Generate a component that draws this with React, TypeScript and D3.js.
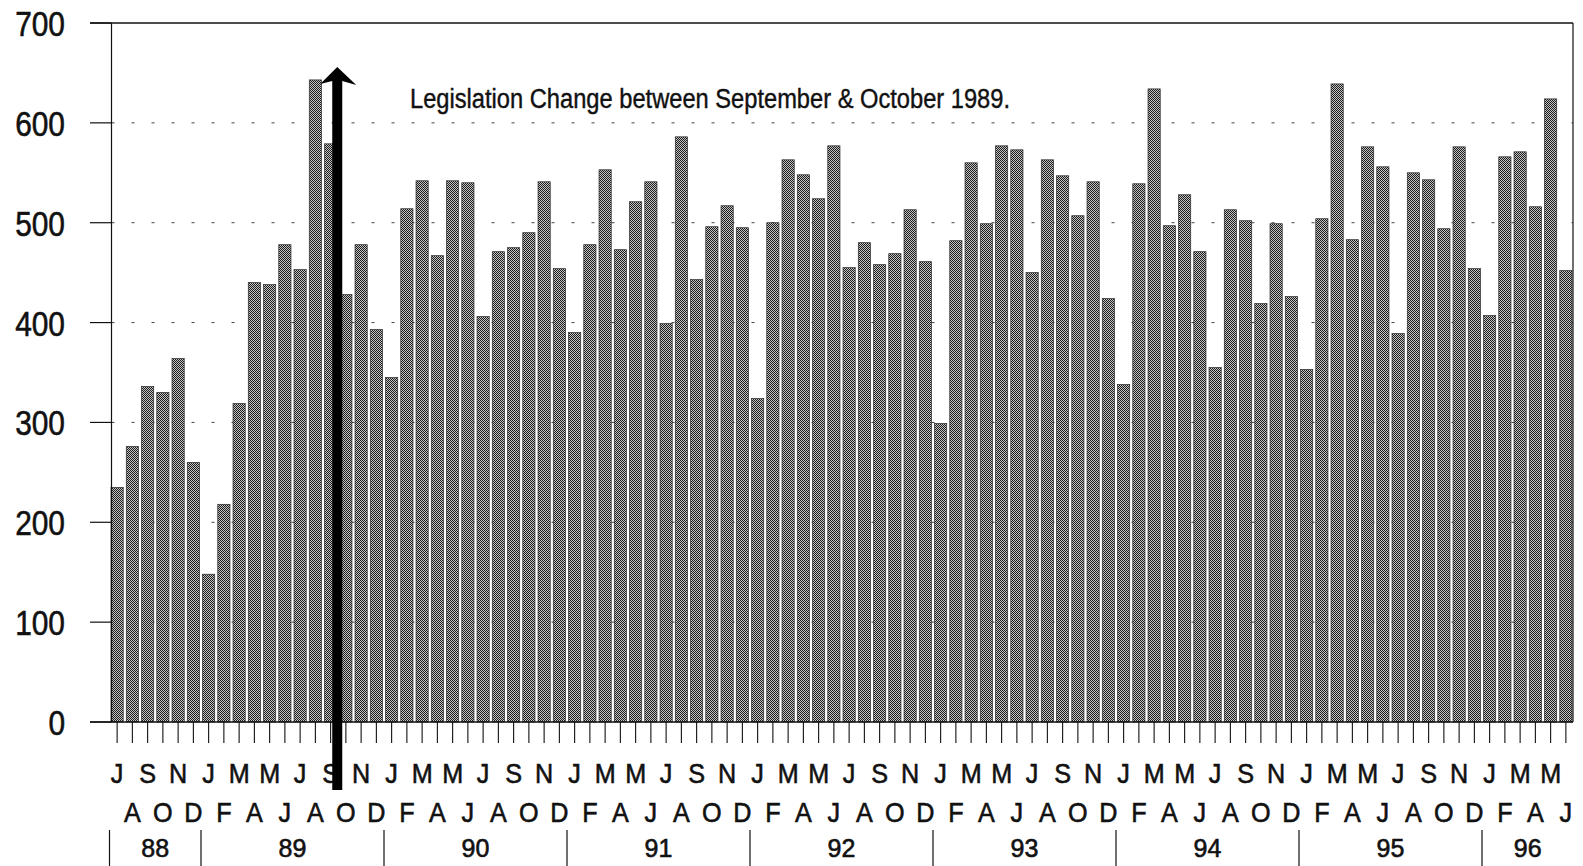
import React from 'react'
import * as d3 from 'd3'

// monthly counts, July 1988 .. June 1996
const values = [
  235, 276, 336, 330, 364, 260,
  148, 218, 319, 440, 438, 478, 453, 643, 579, 428, 478, 393,
  345, 514, 542, 467, 542, 540, 406, 471, 475, 490, 541, 454,
  390, 478, 553, 473, 521, 541, 399, 586, 443, 496, 517, 495,
  324, 500, 563, 548, 524, 577, 455, 480, 458, 469, 513, 461,
  299, 482, 560, 499, 577, 573, 450, 563, 547, 507, 541, 424,
  338, 539, 634, 497, 528, 471, 355, 513, 502, 419, 499, 426,
  353, 504, 639, 483, 576, 556, 389, 550, 543, 494, 576, 454,
  407, 566, 571, 516, 624, 452
]
const monthLetters = ['J', 'F', 'M', 'A', 'M', 'J', 'J', 'A', 'S', 'O', 'N', 'D']
const years = ['88', '89', '90', '91', '92', '93', '94', '95', '96']
const startMonth = 6 // July 1988
const yTicks = [0, 100, 200, 300, 400, 500, 600, 700]
const annotation = 'Legislation Change between September & October 1989.'
const changeIndex = 15 // October 1989

const W = 1583
const H = 866
const FONT = '"Liberation Sans", Arial, sans-serif'

const cats = values.map((_, i) => {
  const m = (startMonth + i) % 12
  const y = Math.floor((startMonth + i) / 12)
  return { key: i, letter: monthLetters[m], year: years[y], month: m }
})

const App = () => {
  const x = d3.scaleBand<number>()
    .domain(cats.map(c => c.key))
    .range([109.5, 1573.5])
    .paddingInner(0.2)
    .paddingOuter(0.1)
  const step = x.step()
  const y = d3.scaleLinear().domain([0, 700]).range([722, 23])
  const left = 111.5
  const right = 1573
  const bottom = y(0)
  const top = y(700)

  // year segments
  const segs = years.map(yr => {
    const idx = cats.filter(c => c.year === yr).map(c => c.key)
    const x0 = x.range()[0] + idx[0] * step
    const x1 = x.range()[0] + (idx[idx.length - 1] + 1) * step
    return { yr, x0, x1 }
  })

  const arrowX = x.range()[0] + changeIndex * step - 1
  const tipY = y(656)
  const ink = { fill: '#111', stroke: '#111', strokeWidth: 0.6 }

  return (
    <svg width={W} height={H} style={{ position: 'absolute', left: 0, top: 0, background: '#fff' }}>
      <defs>
        <pattern id='halftone' patternUnits='userSpaceOnUse' width={2} height={2}>
          <rect width={2} height={2} fill='#c4c4c4' />
          <rect width={1} height={1} fill='#1c1c1c' />
          <rect x={1} y={1} width={1} height={1} fill='#1c1c1c' />
        </pattern>
      </defs>

      {/* dashed gridlines */}
      {yTicks.filter(t => t > 0 && t < 700).map(t => (
        <line key={t} x1={left} x2={right} y1={y(t)} y2={y(t)}
          stroke='#444' strokeWidth={1} strokeDasharray='3,17' />
      ))}

      {/* bars */}
      {values.map((v, i) => (
        <rect key={i} x={x(i)} y={y(v)} width={x.bandwidth()} height={bottom - y(v)}
          fill='url(#halftone)' stroke='#2a2a2a' strokeWidth={0.7} />
      ))}

      {/* frame */}
      <line x1={90} x2={right} y1={top} y2={top} stroke='#111' strokeWidth={1.5} />
      <line x1={right} x2={right} y1={top} y2={bottom} stroke='#111' strokeWidth={1.2} />
      <line x1={left} x2={left} y1={top} y2={bottom} stroke='#111' strokeWidth={1.2} />
      <line x1={90} x2={right} y1={bottom} y2={bottom} stroke='#111' strokeWidth={1.6} />

      {/* y ticks and labels */}
      {yTicks.map(t => (
        <g key={t}>
          <line x1={90} x2={left} y1={y(t)} y2={y(t)} stroke='#111' strokeWidth={1.2} />
          <text transform={`translate(65,${y(t) + 13}) scale(0.83,1)`} textAnchor='end'
            fontFamily={FONT} fontSize={36} {...ink}>{t}</text>
        </g>
      ))}

      {/* x ticks and month letters */}
      {cats.map(c => {
        const cx = (x(c.key) as number) + x.bandwidth() / 2
        const row = c.key % 2
        return (
          <g key={c.key}>
            <line x1={cx} x2={cx} y1={bottom} y2={743} stroke='#111' strokeWidth={1.1} />
            <text transform={`translate(${cx},${row === 0 ? 783 : 822}) scale(0.9,1)`}
              textAnchor='middle' fontFamily={FONT} fontSize={28} {...ink}>{c.letter}</text>
          </g>
        )
      })}

      {/* year separators and labels */}
      {segs.map(s => (
        <g key={s.yr}>
          <line x1={s.x0} x2={s.x0} y1={830} y2={H} stroke='#111' strokeWidth={1.2} />
          <text x={(s.x0 + s.x1) / 2} y={857} textAnchor='middle' fontFamily={FONT}
            fontSize={25} {...ink}>{s.yr}</text>
        </g>
      ))}

      {/* legislation change arrow */}
      <rect x={arrowX - 5} y={tipY + 14} width={10} height={790 - tipY - 14} fill='#000' />
      <path d={`M${arrowX},${tipY} L${arrowX + 19},${tipY + 18} L${arrowX + 5},${tipY + 14} L${arrowX - 5},${tipY + 14} L${arrowX - 17},${tipY + 17} Z`}
        fill='#000' />
      <text x={410} y={108} fontFamily={FONT} fontSize={27} fill='#111' stroke='#111' strokeWidth={0.4}
        textLength={600} lengthAdjust='spacingAndGlyphs'>{annotation}</text>
    </svg>
  )
}

export default App
